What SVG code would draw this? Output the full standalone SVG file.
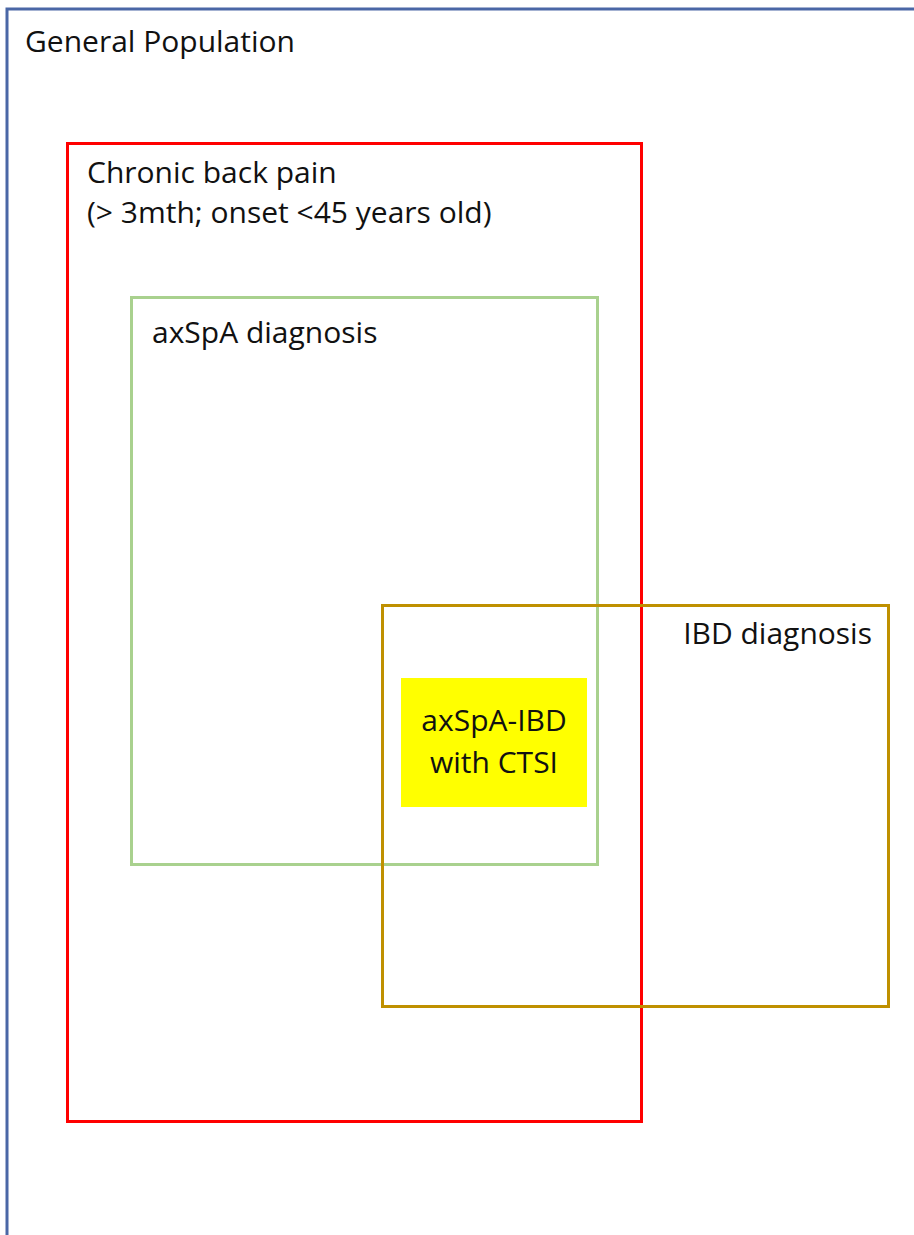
<svg xmlns="http://www.w3.org/2000/svg" width="914" height="1235" viewBox="0 0 914 1235">
  <style>
    .box { fill: none; stroke-width: 3; }
    .lbl { font-family: "Open Sans", "Liberation Sans", sans-serif; font-size: 30px; fill: #111; }
  </style>
  <rect width="914" height="1235" fill="#ffffff"/>

  <!-- outermost set: general population (runs off the right and bottom edges) -->
  <g id="general-population">
    <path class="box" d="M7 1240 V9 H920" stroke="#4a67a6"/>
    <text class="lbl" x="25" y="52">General Population</text>
  </g>

  <!-- chronic back pain set -->
  <g id="chronic-back-pain">
    <rect class="box" x="67.5" y="143.5" width="574" height="978" stroke="#ff0000"/>
    <text class="lbl" x="87" y="183">Chronic back pain</text>
    <text class="lbl" x="87" y="223">(&gt; 3mth; onset &lt;45 years old)</text>
  </g>

  <!-- axSpA diagnosis set -->
  <g id="axspa-diagnosis">
    <rect class="box" x="131.5" y="297.5" width="466" height="567" stroke="#a9d18e"/>
    <text class="lbl" x="152" y="343">axSpA diagnosis</text>
  </g>

  <!-- IBD diagnosis set -->
  <g id="ibd-diagnosis">
    <rect class="box" x="382.5" y="605.5" width="506" height="401" stroke="#bf9000"/>
    <text class="lbl" x="872" y="644" text-anchor="end">IBD diagnosis</text>
  </g>

  <!-- overlap: axSpA-IBD with CTSI -->
  <g id="axspa-ibd-ctsi">
    <rect x="401" y="678" width="186" height="129" fill="#ffff00"/>
    <text class="lbl" x="494" y="731" text-anchor="middle">axSpA-IBD</text>
    <text class="lbl" x="494" y="773" text-anchor="middle">with CTSI</text>
  </g>

  <g id="connectors"/>
</svg>
